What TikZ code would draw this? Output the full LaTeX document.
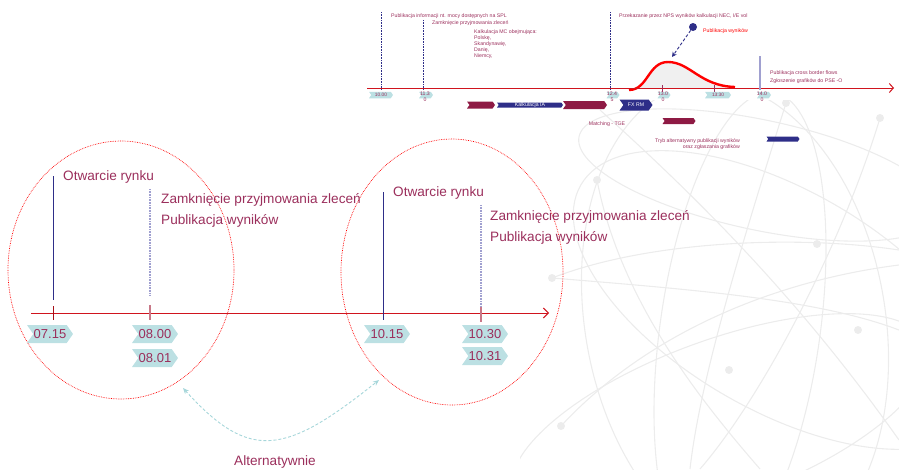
\documentclass[tikz,border=0pt]{standalone}
\usepackage{fontspec}
\setmainfont{Liberation Sans}
\usetikzlibrary{shapes.geometric,shapes.symbols,arrows.meta}
\definecolor{maroon}{HTML}{9B2F5C}
\definecolor{barmaroon}{HTML}{8E1A44}
\definecolor{navy}{HTML}{2E2E88}
\definecolor{lav}{HTML}{A0A0D0}
\definecolor{tagc}{HTML}{BCE0E3}
\definecolor{axisred}{HTML}{D0141E}
\definecolor{tickpink}{HTML}{C87888}
\definecolor{cyanarr}{HTML}{A6D6DA}
\definecolor{globec}{HTML}{ECECEC}
\tikzset{
  tagbig/.style={signal, signal to=east, signal from=west, signal pointer angle=110, fill=tagc, draw=none, inner sep=0pt, minimum width=46pt, minimum height=18pt, text=maroon, font=\fontsize{13}{15}\selectfont},
  tagsmall/.style={signal, signal to=east, signal from=west, signal pointer angle=110, fill=tagc, draw=none, inner sep=0pt, minimum height=6.5pt, text=maroon, font=\fontsize{4.8}{5}\selectfont},
  bigtext/.style={anchor=west, inner sep=0pt, text=maroon, font=\fontsize{13.6}{15}\selectfont},
  smalltext/.style={anchor=west, inner sep=0pt, text=maroon, font=\fontsize{5.2}{6}\selectfont},
  barm/.style={signal, signal to=east, signal from=west, signal pointer angle=110, fill=barmaroon, draw=none, inner sep=0pt},
  barb/.style={signal, signal to=east, signal from=west, signal pointer angle=110, fill=navy, draw=none, inner sep=0pt, text=white, font=\fontsize{5.2}{6}\selectfont},
  oval/.style={ellipse, draw=red, densely dotted, line width=0.7pt, inner sep=0pt},
  vdark/.style={draw=navy, line width=0.8pt},
  vlight/.style={draw=lav, line width=1.6pt, dash pattern=on 1pt off 0.6pt},
  vtop/.style={draw=navy, line width=0.6pt, densely dotted},
  globe/.style={draw=globec, line width=1.1pt},
  gdot/.style={fill=globec},
}
\begin{document}
\begin{tikzpicture}[x=1pt,y=-1pt]
\useasboundingbox (0,0) rectangle (899,469);
% background globe decoration
\begin{scope}
\clip (520,100) rectangle (899,469);
\draw[globe, rotate around={-12:(760,175)}] (760,175) ellipse (185 and 55);
\draw[globe, rotate around={10:(735,320)}] (735,320) ellipse (150 and 240);
\draw[globe, rotate around={-8:(740,330)}] (740,330) ellipse (80 and 240);
\draw[globe, rotate around={-30:(780,300)}] (780,300) ellipse (230 and 110);
\draw[globe, rotate around={20:(720,420)}] (720,420) ellipse (220 and 80);
\draw[globe] (552,278) .. controls (650,240) and (800,235) .. (899,250);
\draw[globe] (552,278) .. controls (700,290) and (820,300) .. (899,330);
\draw[globe] (597,180) .. controls (620,300) and (700,400) .. (760,469);
\draw[globe] (786,103) .. controls (740,250) and (700,380) .. (690,469);
\draw[globe] (880,118) .. controls (840,250) and (760,400) .. (700,469);
\draw[globe] (561,426) .. controls (650,330) and (780,280) .. (899,265);
\draw[globe] (600,110) .. controls (700,200) and (800,300) .. (899,440);
\foreach \p in {(597,180),(552,278),(880,118),(817,244),(858,330),(729,370),(561,426),(786,103)}
  \fill[gdot] \p circle (4);
\end{scope}

% ===== top timeline =====
\coordinate (ta0) at (367,88);
\coordinate (ta1) at (894,88);
% bell curve
\fill[black!6] (629,88) -- (629,90) .. controls (648,90) and (648,62) .. (668,62) .. controls (690,62) and (700,86) .. (735,87) -- (735,88) -- cycle;
\draw[red, line width=2.4pt] (629,90) .. controls (648,90) and (648,62) .. (668,62) .. controls (690,62) and (700,86) .. (735,87);
\draw[axisred, line width=1pt, -{Straight Barb[length=4pt,width=9pt]}] (ta0) -- (ta1);
% top verticals
\draw[vtop] (381,12) -- (381,90);
\draw[vtop] (423,20) -- (423,90);
\draw[vtop] (610,12) -- (610,90);
\draw[lav, line width=1.2pt] (760,56) -- (760,90);
\foreach \x in {662,714} \draw[maroon, line width=0.5pt] (\x,85) -- (\x,92);
% top tags
\node[tagsmall, minimum width=24pt] (t1000) at (381,95) {10.00};
\node[tagsmall, minimum width=14pt] (t1130) at (426,95) {};
\node[smalltext, anchor=center, align=center] (t1130t) at (425,97) {11.3\\0};
\node[tagsmall, minimum width=13pt] (t1245) at (613,95) {};
\node[smalltext, anchor=center, align=center] (t1245t) at (612,97) {12.4\\5};
\node[tagsmall, minimum width=13pt] (t1300) at (664,95) {};
\node[smalltext, anchor=center, align=center] (t1300t) at (663,97) {13.0\\0};
\node[tagsmall, minimum width=26pt] (t1330) at (718,95) {13:30};
\node[tagsmall, minimum width=14pt] (t1400) at (764,95) {};
\node[smalltext, anchor=center, align=center] (t1400t) at (762,97) {14.0\\0};
% top texts
\node[smalltext] (pub1) at (391,16) {Publikacja informacji nt. mocy dostępnych na SPL};
\node[smalltext] (zam1) at (432,23) {Zamknięcie przyjmowania zleceń};
\node[smalltext, anchor=north west, align=left] (kalk) at (474,30) {Kalkulacja MC obejmująca:\\Polskę,\\Skandynawię,\\Danię,\\Niemcy,};
\node[smalltext] (przek) at (619,16) {Przekazanie przez NPS wyników kalkulacji NEC, I/E vol};
\node[circle, fill=navy, inner sep=0pt, minimum size=8pt] (dot) at (693,27) {};
\coordinate (dotend) at (672,57);
\draw[navy, line width=0.9pt, densely dashed, -{Stealth[length=5pt,width=5pt]}] (dot) -- (dotend);
\node[smalltext, text=red] (pubw) at (703,31) {Publikacja wyników};
\node[smalltext, anchor=north west, align=left] (cross) at (770,71) {Publikacja cross border flows\\[1.2pt]Zgłoszenie  grafików do PSE -O};
% bars
\node[barm, minimum width=28pt, minimum height=7pt] (b1) at (481,105) {};
\node[barb, minimum width=66pt, minimum height=5pt] (b2) at (530,105) {Kalkulacja IA};
\node[barm, minimum width=44pt, minimum height=8pt] (b3) at (585,105) {};
\node[barb, minimum width=33pt, minimum height=11pt] (b4) at (636,105) {FX RM};
\node[smalltext, anchor=center] (match) at (607,124) {Matching  - TGE};
\node[barm, minimum width=33pt, minimum height=6pt] (b5) at (679,121) {};
\node[smalltext, anchor=north east, align=right] (tryb) at (740,138.5) {Tryb alternatywny  publikacji wyników\\oraz zgłaszania grafików};
\node[barb, minimum width=33pt, minimum height=5pt] (b6) at (783,139) {};

% ===== bottom timeline =====
\node[oval, minimum width=226pt, minimum height=258pt] (e1) at (121,270) {};
\node[oval, minimum width=222pt, minimum height=266pt] (e2) at (452,272) {};
\coordinate (ba0) at (31,313);
\coordinate (ba1) at (549,313);
\draw[axisred, line width=1pt, -{Straight Barb[length=5pt,width=10pt]}] (ba0) -- (ba1);
% verticals
\draw[vdark] (53,176) -- (53,300);
\draw[axisred!80!black, line width=0.9pt] (53,306) -- (53,320);
\draw[vlight] (150,189) -- (150,296);
\draw[tickpink, line width=1.2pt] (150,305) -- (150,320);
\draw[vdark] (383,192) -- (383,320);
\draw[vlight] (481,205) -- (481,307);
\draw[tickpink, line width=1.2pt] (481,307) -- (481,322);
% texts
\node[bigtext] (otw1) at (63,177) {Otwarcie  rynku};
\node[bigtext] (zam2) at (161,200) {Zamknięcie przyjmowania zleceń};
\node[bigtext] (pub2) at (161,221) {Publikacja wyników};
\node[bigtext] (otw2) at (393,193) {Otwarcie  rynku};
\node[bigtext] (zam3) at (490,217) {Zamknięcie przyjmowania zleceń};
\node[bigtext] (pub3) at (490,238) {Publikacja wyników};
% tags
\node[tagbig] (g0715) at (50,334) {07.15};
\node[tagbig] (g0800) at (155,334) {08.00};
\node[tagbig] (g0801) at (155,358) {08.01};
\node[tagbig] (g1015) at (387,334) {10.15};
\node[tagbig] (g1030) at (485,334) {10.30};
\node[tagbig] (g1031) at (485,356) {10.31};
% alternative arrow
\coordinate (alt0) at (183,388);
\coordinate (alt1) at (379,380);
\draw[cyanarr, line width=0.9pt, densely dashed, {Stealth[length=6pt,width=5pt]}-{Stealth[length=6pt,width=5pt]}] (alt0) .. controls (250,462) and (285,455) .. (alt1);
\node[bigtext, anchor=center] (alt) at (275,462) {Alternatywnie};
\end{tikzpicture}
\end{document}
